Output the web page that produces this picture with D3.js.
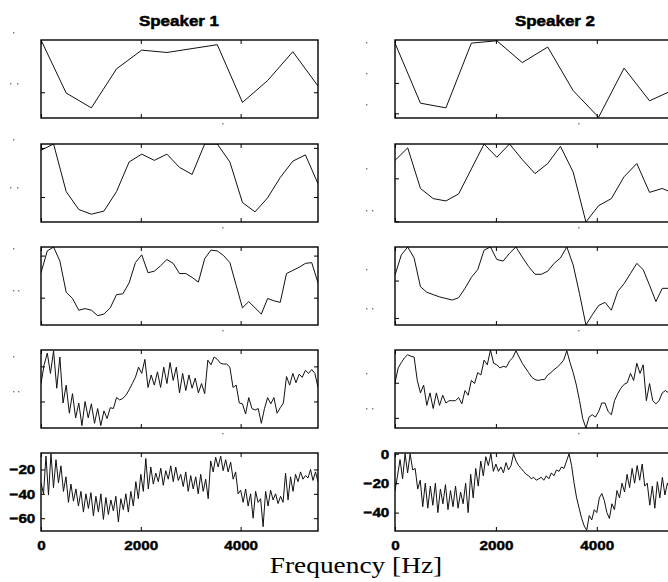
<!DOCTYPE html>
<html>
<head>
<meta charset="utf-8">
<script src="https://cdn.jsdelivr.net/npm/d3@7"></script>
<style>
  body { margin: 0; background: #fff; }
</style>
</head>
<body>
<svg width="668" height="582"></svg>
<script>
var MAX_HZ = 5550;
var X_TICKS = [0, 2000, 4000];
var TITLES = ['Speaker 1', 'Speaker 2'];

// rows 1-4: relative level, 0 = panel floor, 100 = panel top
var s1Row1 = [100, 32, 13, 63, 87, 84, 89, 94, 20, 48, 85, 41];
var s2Row1 = [96, 19, 13, 96, 99, 71, 91, 35, 1, 64, 22, 37];

var s1Row2 = [92, 100, 39, 16, 10, 14, 39, 77, 87, 79, 87, 70, 61, 100, 100, 77, 25, 13, 31, 57, 78, 86, 49];
var s2Row2 = [79, 95, 43, 30, 27, 36, 68, 100, 83, 100, 80, 62, 75, 97, 64, 0, 21, 30, 58, 75, 38, 43, 36];

var s1Row3 = [67, 95, 100, 82, 42, 34, 19, 21, 19, 12, 14, 22, 39, 40, 54, 80, 90, 67, 69, 76,
  84, 79, 66, 66, 61, 55, 85, 96, 95, 89, 80, 51, 22, 30, 22, 14, 34, 31, 29, 66,
  70, 74, 79, 80, 54];
var s2Row3 = [64, 90, 100, 86, 49, 42, 39, 36, 34, 32, 35, 47, 61, 71, 96, 100, 84, 82, 92, 100,
  87, 75, 65, 65, 69, 79, 86, 100, 77, 40, 0, 13, 25, 29, 19, 43, 53, 66, 79, 71,
  51, 30, 47, 47, 44];

var s1Row4 = [57, 81, 96, 70, 99, 51, 91, 32, 55, 19,
  44, 13, 32, 3, 34, 13, 31, 6, 25, 3,
  22, 12, 26, 25, 39, 36, 38, 42, 49, 57,
  65, 78, 70, 88, 52, 68, 55, 72, 52, 78,
  57, 84, 61, 78, 45, 70, 48, 68, 51, 64,
  45, 57, 44, 87, 81, 91, 88, 83, 82, 82,
  78, 52, 55, 32, 31, 18, 39, 25, 23, 25,
  6, 25, 39, 31, 39, 19, 26, 32, 66, 55,
  70, 58, 69, 65, 74, 70, 75, 70, 52];
var s2Row4 = [58, 77, 84, 90, 94, 92, 91, 61, 45, 55,
  29, 45, 25, 45, 29, 42, 32, 35, 35, 35,
  39, 31, 48, 42, 61, 57, 71, 68, 87, 81,
  100, 83, 81, 77, 79, 78, 86, 90, 99, 91,
  83, 77, 71, 65, 62, 61, 62, 62, 68, 71,
  75, 78, 82, 87, 99, 84, 71, 55, 35, 12,
  0, 14, 17, 14, 21, 32, 32, 21, 17, 35,
  44, 51, 56, 58, 70, 61, 83, 70, 81, 35,
  57, 35, 31, 35, 45, 48, 45, 42, 38];

// row 5: level in dB, one value every ~50 Hz
var s1Row5 = [-31, -40, -9, -41, -7, -35, -12, -31, -17, -38,
  -26, -47, -32, -46, -36, -50, -38, -55, -40, -52,
  -39, -58, -42, -55, -40, -61, -43, -57, -45, -54,
  -42, -63, -44, -53, -40, -55, -38, -50, -30, -44,
  -24, -38, -11, -36, -18, -32, -23, -30, -19, -33,
  -21, -28, -17, -30, -18, -29, -24, -34, -22, -38,
  -25, -36, -26, -40, -24, -38, -28, -44, -13, -22,
  -10, -18, -9, -21, -12, -22, -14, -28, -22, -40,
  -37, -47, -36, -50, -40, -60, -38, -47, -44, -67,
  -38, -50, -37, -45, -40, -48, -42, -47, -23, -45,
  -26, -38, -24, -30, -22, -28, -25, -27, -20, -29,
  -22, -30];
var s2Row5 = [-25, -15, -4, -17, 0, -13, 0, -11, -10, -24,
  -18, -36, -20, -37, -22, -35, -20, -40, -24, -34,
  -21, -38, -25, -36, -22, -37, -26, -34, -20, -40,
  -14, -30, -10, -22, -5, -15, -2, -8, 0, -12,
  -7, -12, -9, -13, -6, -11, -8, 0, -5, -8,
  -10, -12, -14, -15, -17, -16, -18, -17, -16, -18,
  -15, -17, -13, -15, -11, -12, -9, -10, -5, 0,
  -8, -20, -30, -37, -44, -49, -52, -42, -45, -38,
  -40, -30, -27, -32, -40, -44, -34, -38, -25, -30,
  -20, -26, -14, -23, -10, -20, -8, -18, -7, -22,
  -20, -35, -22, -37, -19, -30, -16, -28, -20, -25,
  -22, -28];

var series = [
  [s1Row1, s1Row2, s1Row3, s1Row4, s1Row5],
  [s2Row1, s2Row2, s2Row3, s2Row4, s2Row5]
];
var yDomains = [
  [[0, 100], [0, 100], [0, 100], [0, 100], [-70.5, -6.5]],
  [[0, 100], [0, 100], [0, 100], [0, 100], [-52.5, 0.5]]
];
var yTicks = [
  [[33], [32, 95], [35, 89], [34, 79], [-60, -40, -20]],
  [[6, 45], [1, 56], [9, 57], [13, 58], [-40, -20, 0]]
];

// layout
var ROW_TOP = [40, 144, 247, 350, 453];
var ROW_H = 78;
var COL_X = [41, 395];
var COL_W = [277, 280];
var TITLE_X = [179, 555];
var STRETCH = 'scale(1.13,1)';

// faint leftover dots beside the panels, offsets from panel corner
var strayDots = [
  [[[-28, -8], [-31, 43], [-24, 43]], [[-28, -5], [-31, 43], [-24, 43]],
   [[-28, 1], [-28, 43], [-23, 43]], [[-28, 6], [-28, 41], [-23, 41]]],
  [[[-29, 2], [-29, 33], [-29, 64]], [[-29, 24], [-29, 66], [-23, 66]],
   [[-29, 22], [-29, 61], [-23, 61]], [[-29, 23], [-29, 58], [-23, 58]]]
];
var STRAY_HZ = 3630;

var svg = d3.select('svg');

function drawPanel(c, r) {
  var data = series[c][r];
  var top = ROW_TOP[r];
  var x = d3.scaleLinear().domain([0, MAX_HZ]).range([COL_X[c], COL_X[c] + COL_W[c]]);
  var y = d3.scaleLinear().domain(yDomains[c][r]).range([top + ROW_H, top]);
  var step = MAX_HZ / (data.length - 1);
  var last = r === 4;
  var id = 'clip' + c + r;

  svg.append('clipPath').attr('id', id)
    .append('rect')
    .attr('x', COL_X[c]).attr('y', top)
    .attr('width', COL_W[c]).attr('height', ROW_H);

  var line = d3.line()
    .x(function (d, i) { return x(i * step); })
    .y(function (d) { return y(d); });

  svg.append('path')
    .datum(data)
    .attr('clip-path', 'url(#' + id + ')')
    .attr('d', line)
    .attr('fill', 'none')
    .attr('stroke', '#111')
    .attr('stroke-width', 1)
    .attr('stroke-linejoin', 'round');

  var fmt = last ? d3.format('d') : function () { return ''; };

  function style(g) {
    g.select('.domain').remove();
    g.attr('font-family', '"Liberation Sans", Arial, sans-serif')
      .attr('font-size', 13.5)
      .attr('font-weight', 'bold');
    g.selectAll('text')
      .attr('fill', '#000')
      .attr('stroke', '#000')
      .attr('stroke-width', 0.45)
      .attr('transform', STRETCH);
    g.selectAll('line').attr('stroke', '#000');
  }

  svg.append('g')
    .attr('transform', 'translate(0,' + (top + ROW_H) + ')')
    .call(d3.axisBottom(x).tickValues(X_TICKS).tickSizeInner(-4).tickSizeOuter(0)
      .tickPadding(9).tickFormat(fmt))
    .call(style);
  svg.append('g')
    .attr('transform', 'translate(0,' + top + ')')
    .call(d3.axisTop(x).tickValues(X_TICKS).tickSizeInner(-4).tickSizeOuter(0)
      .tickFormat(''))
    .call(style);
  svg.append('g')
    .attr('transform', 'translate(' + COL_X[c] + ',0)')
    .call(d3.axisLeft(y).tickValues(yTicks[c][r]).tickSizeInner(-4).tickSizeOuter(0)
      .tickPadding(5).tickFormat(fmt))
    .call(style);
  svg.append('g')
    .attr('transform', 'translate(' + (COL_X[c] + COL_W[c]) + ',0)')
    .call(d3.axisRight(y).tickValues(yTicks[c][r]).tickSizeInner(-4).tickSizeOuter(0)
      .tickFormat(''))
    .call(style);

  svg.append('rect')
    .attr('x', COL_X[c]).attr('y', top)
    .attr('width', COL_W[c]).attr('height', ROW_H)
    .attr('fill', 'none')
    .attr('stroke', '#000')
    .attr('stroke-width', 1.4);

  if (!last) {
    var dots = strayDots[c][r].concat([[x(STRAY_HZ) - COL_X[c], ROW_H + 5]]);
    svg.selectAll(null)
      .data(dots)
      .enter().append('rect')
      .attr('x', function (d) { return COL_X[c] + d[0]; })
      .attr('y', function (d) { return top + d[1]; })
      .attr('width', 1.4).attr('height', 1.4)
      .attr('fill', '#777');
  }
}

for (var c = 0; c < 2; c += 1) {
  for (var r = 0; r < 5; r += 1) {
    drawPanel(c, r);
  }
  svg.append('text')
    .attr('transform', 'translate(' + TITLE_X[c] + ',26) ' + STRETCH)
    .attr('text-anchor', 'middle')
    .attr('font-family', '"Liberation Sans", Arial, sans-serif')
    .attr('font-weight', 'bold')
    .attr('font-size', 15)
    .attr('stroke', '#000')
    .attr('stroke-width', 0.5)
    .text(TITLES[c]);
}

svg.append('text')
  .attr('transform', 'translate(356,573) scale(1.19,1)')
  .attr('text-anchor', 'middle')
  .attr('font-family', '"Liberation Serif", "Times New Roman", serif')
  .attr('font-size', 23)
  .text('Frequency [Hz]');
</script>
</body>
</html>
